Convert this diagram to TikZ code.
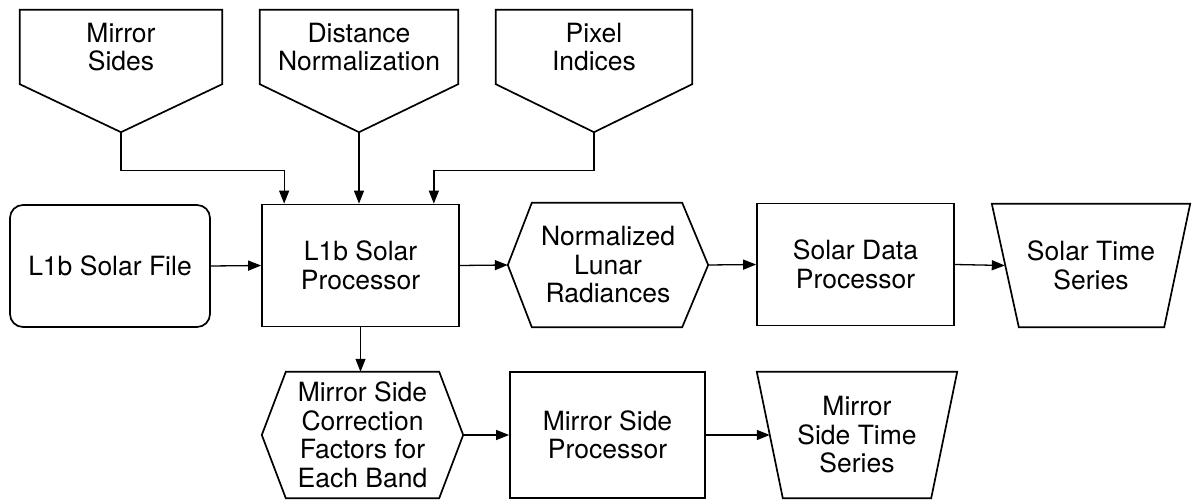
\documentclass[tikz,border=0pt]{standalone}
\usepackage{fontspec}
\setmainfont{TeX Gyre Heros}
\usetikzlibrary{arrows.meta,calc}
\begin{document}
\begin{tikzpicture}[x=1pt,y=-1pt,
  lbl/.style={align=center,inner sep=0pt,font=\fontsize{26.5}{28.5}\selectfont},
  boxed/.style={lbl,draw,line width=1.7pt},
  outline/.style={draw,line width=1.7pt,line join=miter},
  arr/.style={line width=1.3pt,-{Triangle[length=13pt,width=10pt]}},
  wire/.style={line width=1.3pt}
]
\useasboundingbox (0,0) rectangle (1192,502);

% top inputs (pentagons)
\node[lbl,minimum width=202,minimum height=74] (ms) at (121,47) {Mirror\\Sides};
\node[lbl,minimum width=198,minimum height=74] (dn) at (359,47) {Distance\\Normalization};
\node[lbl,minimum width=196,minimum height=74] (pi) at (594,47) {Pixel\\Indices};
\foreach \n in {ms,dn,pi}{
  \coordinate (\n tip) at ($(\n.south)+(0,48)$);
  \draw[outline] (\n.north west) -- (\n.north east) -- (\n.south east) -- (\n tip) -- (\n.south west) -- cycle;
}

% first row
\node[boxed,rounded corners=13pt,minimum width=200,minimum height=122] (file) at (110,266) {L1b Solar File};
\node[boxed,minimum width=197,minimum height=122] (proc) at (360.5,265.5) {L1b Solar\\Processor};
\node[lbl,minimum width=200,minimum height=124] (norm) at (608,265) {Normalized\\Lunar\\Radiances};
\draw[outline] (norm.west) -- ($(norm.north west)+(24,0)$) -- ($(norm.north east)+(-26,0)$) -- (norm.east)
  -- ($(norm.south east)+(-26,0)$) -- ($(norm.south west)+(24,0)$) -- cycle;
\node[boxed,minimum width=197,minimum height=122] (sdp) at (855.5,264.5) {Solar Data\\Processor};
\node[lbl,minimum width=198,minimum height=123] (sts) at (1091,265.5) {Solar Time\\Series};
\draw[outline] (sts.north west) -- (sts.north east) -- ($(sts.south east)+(-26,0)$) -- ($(sts.south west)+(27,0)$) -- cycle;

% second row
\node[lbl,minimum width=201,minimum height=126] (corr) at (362.5,435) {Mirror Side\\Correction\\Factors for\\Each Band};
\draw[outline] (corr.west) -- ($(corr.north west)+(24,0)$) -- ($(corr.north east)+(-24,0)$) -- (corr.east)
  -- ($(corr.south east)+(-24,0)$) -- ($(corr.south west)+(24,0)$) -- cycle;
\node[boxed,minimum width=195,minimum height=126] (msp) at (607.5,435) {Mirror Side\\Processor};
\node[lbl,minimum width=200,minimum height=126] (msts) at (857,435) {Mirror\\Side Time\\Series};
\draw[outline] (msts.north west) -- (msts.north east) -- ($(msts.south east)+(-26,0)$) -- ($(msts.south west)+(26,0)$) -- cycle;

% connector end points
\coordinate (in1) at ($(proc.north west)+(23,0)$);
\coordinate (in3) at ($(proc.north east)+(-26,0)$);
\coordinate (stsin) at ($(sts.west)+(13,0)$);
\coordinate (mstsin) at ($(msts.west)+(13,0)$);

% connectors
\draw[arr] (mstip) -- ++(0,38) -| (in1);
\draw[arr] (dntip) -- (dntip |- proc.north);
\draw[arr] (pitip) -- ++(0,38) -| (in3);
\draw[arr] (file.east) -- (proc.west);
\draw[arr] (proc.east) -- (norm.west);
\draw[arr] (norm.east) -- (sdp.west);
\draw[arr] (sdp.east) -- (stsin);
\draw[arr] (proc.south) -- (proc.south |- corr.north);
\draw[arr] (corr.east) -- (msp.west);
\draw[arr] (msp.east) -- (mstsin);
\end{tikzpicture}
\end{document}
